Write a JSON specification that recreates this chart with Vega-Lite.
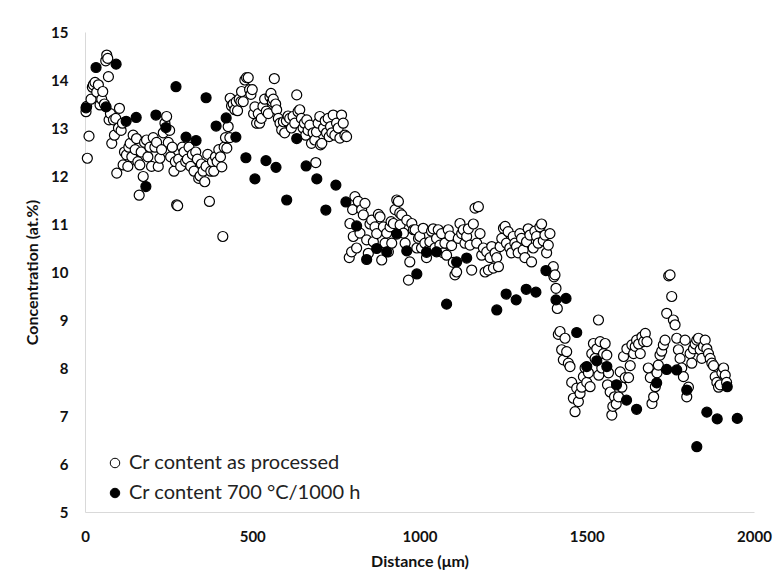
{
  "$schema": "https://vega.github.io/schema/vega-lite/v6.json",
  "width": 669,
  "height": 480,
  "autosize": {"type": "none"},
  "padding": {"left": 85, "top": 32, "right": 23, "bottom": 71},
  "background": "white",
  "config": {
    "view": {"stroke": null},
    "font": "Lato",
    "axis": {"labelFont": "Lato", "titleFont": "Lato", "labelFontWeight": "bold", "titleFontWeight": "bold", "labelFontSize": 15, "titleFontSize": 16, "labelColor": "#111", "titleColor": "#111", "domainColor": "#d9d9d9", "domainWidth": 1, "ticks": false, "grid": false, "labelFlush": false}
  },
  "datasets": {
    "processed": [
      {"distance":3,"concentration":13.34},{"distance":5,"concentration":13.45},{"distance":7,"concentration":12.37},{"distance":12,"concentration":12.83},{"distance":18,"concentration":13.6},{"distance":22,"concentration":13.85},{"distance":25,"concentration":13.9},{"distance":30,"concentration":13.95},{"distance":35,"concentration":13.75},{"distance":40,"concentration":13.9},{"distance":45,"concentration":13.48},{"distance":50,"concentration":13.6},{"distance":53,"concentration":13.76},{"distance":58,"concentration":13.5},{"distance":62,"concentration":14.4},{"distance":65,"concentration":14.52},{"distance":68,"concentration":14.45},{"distance":70,"concentration":14.07},{"distance":72,"concentration":13.17},{"distance":76,"concentration":13.3},{"distance":80,"concentration":12.68},{"distance":85,"concentration":13.17},{"distance":88,"concentration":12.85},{"distance":92,"concentration":13.2},{"distance":95,"concentration":12.06},{"distance":100,"concentration":13.0},{"distance":103,"concentration":13.41},
      {"distance":108,"concentration":12.95},{"distance":112,"concentration":13.1},{"distance":114,"concentration":12.23},{"distance":118,"concentration":12.5},{"distance":124,"concentration":12.44},{"distance":128,"concentration":12.2},{"distance":131,"concentration":12.6},{"distance":135,"concentration":12.68},{"distance":140,"concentration":12.4},{"distance":144,"concentration":12.85},{"distance":150,"concentration":12.55},{"distance":154,"concentration":12.78},{"distance":158,"concentration":12.3},{"distance":162,"concentration":11.6},{"distance":164,"concentration":12.23},{"distance":168,"concentration":12.5},{"distance":174,"concentration":11.99},{"distance":178,"concentration":12.7},{"distance":184,"concentration":12.75},{"distance":188,"concentration":12.4},{"distance":194,"concentration":12.6},{"distance":199,"concentration":12.2},{"distance":204,"concentration":12.8},{"distance":209,"concentration":12.6},{"distance":214,"concentration":12.7},{"distance":219,"concentration":12.2},{"distance":224,"concentration":12.37},{"distance":229,"concentration":12.55},{"distance":234,"concentration":12.9},{"distance":239,"concentration":13.1},{"distance":244,"concentration":13.24},{"distance":249,"concentration":12.7},{"distance":253,"concentration":12.95},{"distance":256,"concentration":12.4},{"distance":261,"concentration":12.6},{"distance":266,"concentration":12.1},{"distance":270,"concentration":12.3},{"distance":274,"concentration":11.4},{"distance":277,"concentration":11.38},{"distance":280,"concentration":12.35},{"distance":286,"concentration":12.2},{"distance":291,"concentration":12.6},{"distance":296,"concentration":12.5},{"distance":301,"concentration":12.3},{"distance":306,"concentration":12.35},{"distance":311,"concentration":12.6},{"distance":316,"concentration":12.2},{"distance":321,"concentration":12.45},{"distance":326,"concentration":12.1},{"distance":331,"concentration":12.5},{"distance":336,"concentration":12.35},{"distance":340,"concentration":11.95},{"distance":344,"concentration":12.0},{"distance":348,"concentration":12.25},
      {"distance":353,"concentration":12.1},{"distance":358,"concentration":11.88},{"distance":362,"concentration":12.2},{"distance":367,"concentration":12.45},{"distance":372,"concentration":11.47},{"distance":376,"concentration":12.1},{"distance":381,"concentration":12.3},{"distance":385,"concentration":12.1},{"distance":390,"concentration":12.4},{"distance":395,"concentration":12.3},{"distance":400,"concentration":12.55},{"distance":405,"concentration":12.4},{"distance":409,"concentration":12.19},{"distance":412,"concentration":10.74},{"distance":416,"concentration":12.6},{"distance":420,"concentration":12.8},{"distance":424,"concentration":12.58},{"distance":428,"concentration":13.03},{"distance":433,"concentration":12.8},
      {"distance":434,"concentration":13.62},{"distance":438,"concentration":13.46},{"distance":443,"concentration":13.5},{"distance":448,"concentration":13.38},{"distance":452,"concentration":13.55},{"distance":456,"concentration":13.36},{"distance":461,"concentration":13.6},{"distance":466,"concentration":13.55},{"distance":468,"concentration":13.76},{"distance":473,"concentration":13.55},{"distance":478,"concentration":14.0},{"distance":483,"concentration":14.05},{"distance":488,"concentration":14.05},{"distance":492,"concentration":13.8},{"distance":496,"concentration":13.7},{"distance":500,"concentration":13.8},{"distance":504,"concentration":13.3},{"distance":508,"concentration":13.44},{"distance":513,"concentration":13.1},{"distance":518,"concentration":13.3},{"distance":522,"concentration":13.1},{"distance":527,"concentration":13.2},
      {"distance":532,"concentration":13.45},{"distance":537,"concentration":13.6},{"distance":542,"concentration":13.35},{"distance":548,"concentration":13.3},{"distance":553,"concentration":13.65},{"distance":556,"concentration":13.72},{"distance":560,"concentration":13.55},{"distance":563,"concentration":13.6},{"distance":566,"concentration":14.03},{"distance":570,"concentration":13.5},{"distance":573,"concentration":13.38},{"distance":578,"concentration":13.2},{"distance":583,"concentration":13.1},{"distance":588,"concentration":12.96},{"distance":593,"concentration":13.13},{"distance":597,"concentration":12.9},{"distance":602,"concentration":13.15},{"distance":607,"concentration":13.25},{"distance":612,"concentration":13.2},{"distance":617,"concentration":13.0},{"distance":622,"concentration":13.24},{"distance":627,"concentration":13.1},{"distance":633,"concentration":13.69},{"distance":637,"concentration":13.34},{"distance":642,"concentration":13.38},{"distance":647,"concentration":13.2},{"distance":652,"concentration":13.0},{"distance":656,"concentration":13.1},{"distance":660,"concentration":12.85},{"distance":663,"concentration":13.17},{"distance":667,"concentration":12.95},{"distance":672,"concentration":13.06},{"distance":677,"concentration":12.68},{"distance":682,"concentration":12.9},{"distance":687,"concentration":12.75},{"distance":690,"concentration":12.28},{"distance":692,"concentration":12.92},{"distance":697,"concentration":13.1},{"distance":702,"concentration":13.24},{"distance":704,"concentration":12.65},{"distance":708,"concentration":12.68},{"distance":713,"concentration":13.0},{"distance":718,"concentration":13.15},{"distance":722,"concentration":12.9},{"distance":727,"concentration":13.2},{"distance":730,"concentration":12.82},{"distance":734,"concentration":13.03},{"distance":738,"concentration":12.9},{"distance":742,"concentration":13.27},{"distance":747,"concentration":12.85},{"distance":752,"concentration":13.1},{"distance":757,"concentration":13.0},{"distance":762,"concentration":12.79},{"distance":767,"concentration":13.27},{"distance":772,"concentration":13.1},{"distance":777,"concentration":12.85},{"distance":782,"concentration":12.82},
      {"distance":790,"concentration":10.3},{"distance":792,"concentration":11.01},{"distance":797,"concentration":10.42},{"distance":800,"concentration":11.3},{"distance":802,"concentration":10.74},{"distance":807,"concentration":11.57},{"distance":812,"concentration":10.5},{"distance":817,"concentration":11.47},{"distance":822,"concentration":10.81},{"distance":827,"concentration":11.3},{"distance":832,"concentration":11.19},{"distance":837,"concentration":11.43},{"distance":842,"concentration":10.67},{"distance":847,"concentration":10.39},{"distance":852,"concentration":11.0},{"distance":857,"concentration":11.08},{"distance":862,"concentration":10.63},{"distance":867,"concentration":10.94},{"distance":872,"concentration":10.8},{"distance":877,"concentration":11.2},{"distance":882,"concentration":11.15},{"distance":887,"concentration":10.25},{"distance":892,"concentration":10.94},{"distance":897,"concentration":10.6},{"distance":902,"concentration":10.81},{"distance":907,"concentration":10.42},{"distance":912,"concentration":10.94},{"distance":915,"concentration":11.05},{"distance":917,"concentration":10.6},{"distance":922,"concentration":11.01},{"distance":927,"concentration":11.3},{"distance":932,"concentration":11.5},{"distance":937,"concentration":11.47},{"distance":941,"concentration":11.23},{"distance":942,"concentration":10.98},{"distance":947,"concentration":11.19},{"distance":952,"concentration":10.81},{"distance":957,"concentration":10.6},{"distance":962,"concentration":11.08},{"distance":967,"concentration":9.83},{"distance":971,"concentration":10.21},{"distance":977,"concentration":11.01},{"distance":982,"concentration":10.88},{"distance":987,"concentration":10.88},{"distance":992,"concentration":10.5},{"distance":997,"concentration":10.7},
      {"distance":1001,"concentration":10.74},{"distance":1006,"concentration":10.5},{"distance":1011,"concentration":10.91},{"distance":1016,"concentration":10.6},{"distance":1021,"concentration":10.3},{"distance":1026,"concentration":10.45},{"distance":1031,"concentration":10.63},{"distance":1036,"concentration":10.85},{"distance":1041,"concentration":10.9},{"distance":1046,"concentration":10.5},{"distance":1051,"concentration":10.7},{"distance":1056,"concentration":10.88},{"distance":1061,"concentration":10.56},{"distance":1066,"concentration":10.8},{"distance":1071,"concentration":10.4},{"distance":1076,"concentration":10.6},{"distance":1081,"concentration":10.35},{"distance":1086,"concentration":10.88},{"distance":1091,"concentration":10.75},{"distance":1096,"concentration":10.55},{"distance":1101,"concentration":10.2},{"distance":1106,"concentration":9.94},{"distance":1111,"concentration":10.0},{"distance":1116,"concentration":10.7},{"distance":1121,"concentration":11.01},{"distance":1126,"concentration":10.8},{"distance":1131,"concentration":10.88},{"distance":1136,"concentration":10.6},{"distance":1141,"concentration":10.74},{"distance":1146,"concentration":10.9},{"distance":1151,"concentration":10.56},{"distance":1156,"concentration":10.04},{"distance":1161,"concentration":11.0},{"distance":1166,"concentration":11.33},{"distance":1171,"concentration":10.6},{"distance":1176,"concentration":11.36},{"distance":1181,"concentration":10.8},{"distance":1186,"concentration":10.35},{"distance":1191,"concentration":10.5},{"distance":1196,"concentration":10.0},{"distance":1201,"concentration":10.42},
      {"distance":1206,"concentration":10.04},{"distance":1211,"concentration":10.3},{"distance":1216,"concentration":10.53},{"distance":1221,"concentration":10.08},{"distance":1226,"concentration":10.4},{"distance":1231,"concentration":10.3},{"distance":1236,"concentration":10.11},{"distance":1241,"concentration":10.53},{"distance":1246,"concentration":10.7},{"distance":1251,"concentration":10.91},{"distance":1256,"concentration":10.95},{"distance":1260,"concentration":10.6},{"distance":1265,"concentration":10.84},{"distance":1270,"concentration":10.5},{"distance":1275,"concentration":10.4},{"distance":1280,"concentration":10.74},{"distance":1285,"concentration":10.6},{"distance":1290,"concentration":10.53},{"distance":1295,"concentration":10.4},{"distance":1300,"concentration":10.8},{"distance":1305,"concentration":10.7},{"distance":1310,"concentration":10.46},{"distance":1315,"concentration":10.3},{"distance":1320,"concentration":10.63},{"distance":1325,"concentration":10.9},{"distance":1330,"concentration":10.77},{"distance":1335,"concentration":10.21},{"distance":1340,"concentration":10.5},{"distance":1345,"concentration":10.85},{"distance":1350,"concentration":10.74},{"distance":1355,"concentration":10.6},{"distance":1360,"concentration":10.94},{"distance":1365,"concentration":11.0},{"distance":1370,"concentration":10.65},{"distance":1375,"concentration":10.77},{"distance":1380,"concentration":10.4},{"distance":1385,"concentration":10.56},{"distance":1390,"concentration":10.8},{"distance":1395,"concentration":10.0},{"distance":1400,"concentration":10.11},{"distance":1402,"concentration":9.9},{"distance":1405,"concentration":9.94},{"distance":1408,"concentration":9.66},{"distance":1412,"concentration":9.24},
      {"distance":1415,"concentration":8.7},{"distance":1420,"concentration":8.76},{"distance":1425,"concentration":8.38},{"distance":1430,"concentration":8.17},{"distance":1435,"concentration":8.62},{"distance":1440,"concentration":8.34},{"distance":1445,"concentration":8.1},{"distance":1450,"concentration":8.03},{"distance":1455,"concentration":7.7},{"distance":1460,"concentration":7.37},{"distance":1465,"concentration":7.09},{"distance":1470,"concentration":7.58},{"distance":1475,"concentration":7.3},{"distance":1480,"concentration":7.47},{"distance":1485,"concentration":7.6},{"distance":1490,"concentration":7.82},{"distance":1495,"concentration":8.0},{"distance":1500,"concentration":7.7},{"distance":1505,"concentration":7.9},{"distance":1510,"concentration":7.61},{"distance":1515,"concentration":8.3},{"distance":1520,"concentration":8.51},{"distance":1525,"concentration":8.2},{"distance":1530,"concentration":8.4},{"distance":1535,"concentration":9.0},{"distance":1536,"concentration":7.85},{"distance":1540,"concentration":8.55},{"distance":1545,"concentration":8.0},{"distance":1550,"concentration":8.3},{"distance":1555,"concentration":8.51},{"distance":1560,"concentration":8.27},{"distance":1562,"concentration":7.65},{"distance":1565,"concentration":7.9},{"distance":1570,"concentration":7.5},{"distance":1575,"concentration":7.02},{"distance":1578,"concentration":7.2},{"distance":1583,"concentration":7.4},{"distance":1588,"concentration":7.25},{"distance":1595,"concentration":7.4},{"distance":1600,"concentration":7.92},{"distance":1605,"concentration":7.6},{"distance":1610,"concentration":8.24},{"distance":1615,"concentration":7.8},{"distance":1620,"concentration":8.4},{"distance":1625,"concentration":7.8},{"distance":1630,"concentration":8.05},{"distance":1635,"concentration":8.48},{"distance":1640,"concentration":8.3},{"distance":1645,"concentration":8.45},{"distance":1649,"concentration":8.58},{"distance":1655,"concentration":8.5},{"distance":1660,"concentration":8.3},{"distance":1665,"concentration":8.65},{"distance":1670,"concentration":8.55},{"distance":1675,"concentration":8.72},{"distance":1680,"concentration":8.55},{"distance":1684,"concentration":8.0},{"distance":1690,"concentration":7.8},{"distance":1695,"concentration":7.26},{"distance":1700,"concentration":7.4},{"distance":1705,"concentration":7.61},{"distance":1710,"concentration":7.9},{"distance":1714,"concentration":8.06},{"distance":1719,"concentration":8.27},{"distance":1724,"concentration":8.35},{"distance":1729,"concentration":8.48},{"distance":1734,"concentration":8.58},{"distance":1739,"concentration":9.14},{"distance":1745,"concentration":9.92},{"distance":1749,"concentration":9.94},{"distance":1754,"concentration":9.49},{"distance":1759,"concentration":9.0},{"distance":1764,"concentration":8.9},{"distance":1769,"concentration":8.62},{"distance":1774,"concentration":8.38},{"distance":1779,"concentration":8.2},{"distance":1784,"concentration":8.0},{"distance":1789,"concentration":7.82},{"distance":1794,"concentration":8.58},{"distance":1799,"concentration":7.4},{"distance":1804,"concentration":7.6},{"distance":1809,"concentration":8.3},{"distance":1814,"concentration":8.1},{"distance":1819,"concentration":8.4},{"distance":1824,"concentration":8.5},{"distance":1829,"concentration":8.58},{"distance":1834,"concentration":8.62},{"distance":1839,"concentration":8.38},{"distance":1844,"concentration":8.2},{"distance":1849,"concentration":8.45},{"distance":1854,"concentration":8.58},{"distance":1859,"concentration":8.4},{"distance":1864,"concentration":8.3},{"distance":1869,"concentration":8.2},{"distance":1874,"concentration":8.1},{"distance":1879,"concentration":8.05},{"distance":1884,"concentration":7.82},{"distance":1889,"concentration":7.7},{"distance":1894,"concentration":7.6},{"distance":1899,"concentration":7.65},{"distance":1904,"concentration":7.9},{"distance":1909,"concentration":8.0},{"distance":1914,"concentration":7.85},{"distance":1918,"concentration":7.7}
    ],
    "aged": [
      {"distance":3,"concentration":13.42},{"distance":33,"concentration":14.26},{"distance":63,"concentration":13.44},{"distance":93,"concentration":14.33},{"distance":123,"concentration":13.14},{"distance":153,"concentration":13.22},{"distance":182,"concentration":11.78},{"distance":212,"concentration":13.27},{"distance":242,"concentration":13.01},{"distance":272,"concentration":13.86},{"distance":302,"concentration":12.81},{"distance":332,"concentration":12.74},{"distance":362,"concentration":13.63},{"distance":392,"concentration":13.04},{"distance":422,"concentration":13.21},{"distance":451,"concentration":12.81},{"distance":481,"concentration":12.38},{"distance":508,"concentration":11.94},{"distance":541,"concentration":12.32},{"distance":571,"concentration":12.18},{"distance":603,"concentration":11.5},{"distance":633,"concentration":12.78},{"distance":661,"concentration":12.21},{"distance":693,"concentration":11.94},{"distance":720,"concentration":11.29},{"distance":750,"concentration":11.81},{"distance":780,"concentration":11.46},{"distance":812,"concentration":10.96},{"distance":842,"concentration":10.26},{"distance":872,"concentration":10.49},{"distance":902,"concentration":10.42},{"distance":932,"concentration":10.79},{"distance":962,"concentration":10.44},{"distance":992,"concentration":9.96},{"distance":1021,"concentration":10.41},{"distance":1051,"concentration":10.42},{"distance":1081,"concentration":9.33},{"distance":1111,"concentration":10.21},{"distance":1141,"concentration":10.29},{"distance":1231,"concentration":9.21},{"distance":1259,"concentration":9.54},{"distance":1289,"concentration":9.42},{"distance":1319,"concentration":9.64},{"distance":1348,"concentration":9.58},{"distance":1378,"concentration":10.03},{"distance":1408,"concentration":9.42},{"distance":1438,"concentration":9.45},{"distance":1470,"concentration":8.74},{"distance":1500,"concentration":8.03},{"distance":1530,"concentration":8.15},{"distance":1560,"concentration":8.03},{"distance":1589,"concentration":7.65},{"distance":1619,"concentration":7.33},{"distance":1649,"concentration":7.14},{"distance":1709,"concentration":7.69},{"distance":1739,"concentration":7.97},{"distance":1769,"concentration":7.96},{"distance":1799,"concentration":7.54},{"distance":1829,"concentration":6.36},{"distance":1859,"concentration":7.08},{"distance":1890,"concentration":6.94},{"distance":1920,"concentration":7.61},{"distance":1950,"concentration":6.95}
    ]
  },
  "encoding": {
    "x": {"field": "distance", "type": "quantitative", "title": "Distance (μm)", "scale": {"domain": [0, 2000], "nice": false}, "axis": {"values": [0, 500, 1000, 1500, 2000], "format": "d", "labelPadding": 17, "titlePadding": 9}},
    "y": {"field": "concentration", "type": "quantitative", "title": "Concentration (at.%)", "scale": {"domain": [5, 15], "nice": false, "zero": false}, "axis": {"values": [5, 6, 7, 8, 9, 10, 11, 12, 13, 14, 15], "labelPadding": 17, "titlePadding": 10}}
  },
  "layer": [
    {
      "data": {"name": "processed"},
      "mark": {"type": "point", "shape": "circle", "filled": true, "size": 100, "stroke": "black", "strokeWidth": 1.2, "opacity": 1},
      "encoding": {"fill": {"datum": "Cr content as processed", "type": "nominal", "scale": {"domain": ["Cr content as processed", "Cr content 700 °C/1000 h"], "range": ["white", "black"]}, "legend": {"title": null, "orient": "none", "legendX": 20, "legendY": 421, "labelFontSize": 20, "labelFont": "Lato", "labelColor": "#222", "labelLimit": 0, "symbolType": "circle", "symbolSize": 90, "symbolStrokeColor": "black", "symbolStrokeWidth": 1, "rowPadding": 10, "labelOffset": 4}}}
    },
    {
      "data": {"name": "aged"},
      "mark": {"type": "point", "shape": "circle", "filled": true, "size": 100, "stroke": "black", "strokeWidth": 1.2, "opacity": 1},
      "encoding": {"fill": {"datum": "Cr content 700 °C/1000 h", "type": "nominal"}}
    }
  ]
}
